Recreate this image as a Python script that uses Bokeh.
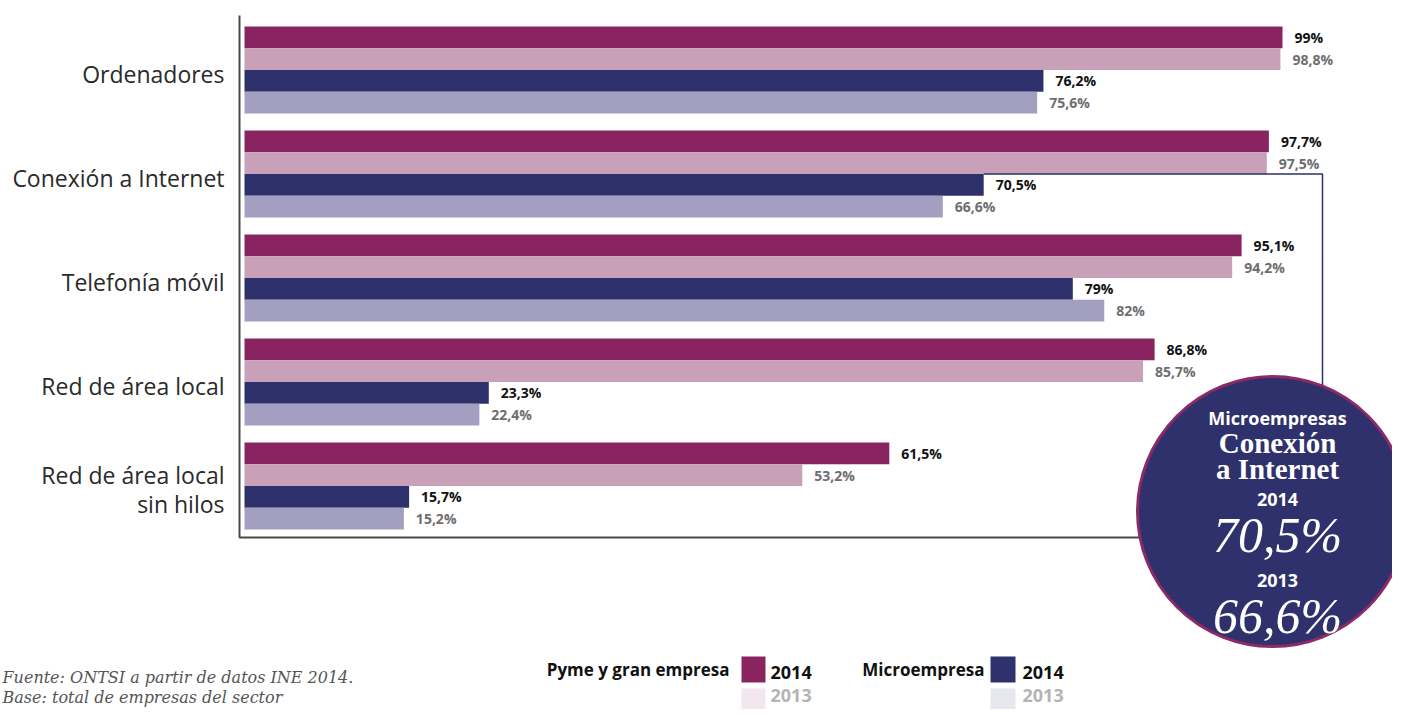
from bokeh.plotting import figure
from bokeh.models import Range1d
from bokeh.embed import file_html
from bokeh.resources import INLINE
from bokeh.core.properties import value

# ---- data ----
categories = ["Ordenadores", "Conexión a Internet", "Telefonía móvil",
              "Red de área local", "Red de área local\nsin hilos"]
pyme_2014 = [99.0, 97.7, 95.1, 86.8, 61.5]
pyme_2013 = [98.8, 97.5, 94.2, 85.7, 53.2]
micro_2014 = [76.2, 70.5, 79.0, 23.3, 15.7]
micro_2013 = [75.6, 66.6, 82.0, 22.4, 15.2]
legend_groups = ["Pyme y gran empresa", "Microempresa"]
legend_years = ["2014", "2013"]
highlight_index = 1  # Conexión a Internet, microempresa

# ---- styling ----
C_P14 = "#8a2461"
C_P13 = "#c8a1b8"
C_M14 = "#2e316b"
C_M13 = "#a39fc1"
W, H = 1392, 709
PX_PER_PCT = 10.485
ZERO_X = 244.0
PITCH = 104.0
G0_Y = 69.5


def X(px):
    return (px - ZERO_X) / PX_PER_PCT


def Y(py):
    return (py - G0_Y) / PITCH


def fmt(v):
    return ("%g" % v).replace(".", ",") + "%"


p = figure(width=W, height=H, output_backend="svg", toolbar_location=None,
           x_range=Range1d(X(0), X(W)), y_range=Range1d(Y(H), Y(0)),
           x_axis_location=None, y_axis_location=None, min_border=0,
           tools="")
p.grid.visible = False
p.outline_line_color = None
p.background_fill_color = "white"
p.border_fill_color = "white"

bh = 21.75 / PITCH
offsets = [-1.5 * bh, -0.5 * bh, 0.5 * bh, 1.5 * bh]
series = [pyme_2014, pyme_2013, micro_2014, micro_2013]
colors = [C_P14, C_P13, C_M14, C_M13]
label_colors = ["#111111", "#6e6e6e", "#111111", "#6e6e6e"]

for s, vals in enumerate(series):
    ys = [i + offsets[s] for i in range(len(categories))]
    p.hbar(y=ys, left=0, right=vals, height=bh, fill_color=colors[s],
           line_color=None)
    p.text(x=vals, y=ys, text=[fmt(v) for v in vals], x_offset=12,
           text_font=value("Open Sans"), text_font_size="14px",
           text_font_style="bold", text_color=label_colors[s],
           text_baseline="middle", text_align="left")

# category labels (multi-line split into separate lines)
lx, ly, lt, lo = [], [], [], []
for i, c in enumerate(categories):
    parts = c.split("\n")
    n = len(parts)
    for k, part in enumerate(parts):
        lx.append(X(224))
        ly.append(i + 3.5 / PITCH)
        lt.append(part)
        lo.append((k - (n - 1) / 2.0) * 29.0)
p.text(x=lx, y=ly, text=lt, y_offset=lo, text_font=value("Open Sans"),
       text_font_size="23px", text_color="#2a2a2a", text_align="right",
       text_baseline="middle")

# axis lines
p.line(x=[X(239), X(239), X(1145)], y=[Y(15), Y(537), Y(537)],
       line_color="#4a4a4a", line_width=2)

# connector from highlighted bar to circle
hy = highlight_index + offsets[2] - bh / 2
p.line(x=[micro_2014[highlight_index], X(1322), X(1322)],
       y=[hy, hy, Y(390)], line_color=C_M14, line_width=1.5)

# circle callout
p.scatter(x=[X(1272)], y=[Y(511)], size=270, marker="circle",
          fill_color=C_M14, line_color="#8b2a66", line_width=3)
cx = X(1277)
p.text(x=[cx], y=[Y(417)], text=["Microempresas"], text_font=value("Open Sans"),
       text_font_size="18px", text_font_style="bold", text_color="white",
       text_align="center", text_baseline="middle")
p.text(x=[cx, cx], y=[Y(442), Y(468)], text=["Conexión", "a Internet"],
       text_font=value("Liberation Serif"), text_font_size="29px",
       text_font_style="bold", text_color="white",
       text_align="center", text_baseline="middle")
p.text(x=[cx, cx], y=[Y(499), Y(580)], text=legend_years,
       text_font=value("Open Sans"), text_font_size="18px",
       text_font_style="bold", text_color="white",
       text_align="center", text_baseline="middle")
big = [fmt(micro_2014[highlight_index]), fmt(micro_2013[highlight_index])]
p.text(x=[cx, cx], y=[Y(534), Y(615)], text=big,
       text_font=value("Liberation Serif"), text_font_size="50px",
       text_font_style="italic", text_color="white",
       text_align="center", text_baseline="middle")

# legend
p.text(x=[X(729), X(984)], y=[Y(669), Y(669)], text=legend_groups,
       text_font=value("Open Sans"), text_font_size="17px",
       text_font_style="bold", text_color="#111111",
       text_align="right", text_baseline="middle")
p.quad(left=[X(741), X(741), X(990), X(990)],
       right=[X(765), X(765), X(1015), X(1015)],
       top=[Y(656), Y(688), Y(656), Y(688)],
       bottom=[Y(682), Y(709), Y(682), Y(709)],
       fill_color=[C_P14, "#f3e6ee", C_M14, "#e7e7ee"], line_color=None)
p.text(x=[X(770), X(1022)], y=[Y(672), Y(672)], text=[legend_years[0]] * 2,
       text_font=value("Open Sans"), text_font_size="18px",
       text_font_style="bold", text_color="#111111",
       text_align="left", text_baseline="middle")
p.text(x=[X(770), X(1022)], y=[Y(695), Y(695)], text=[legend_years[1]] * 2,
       text_font=value("Open Sans"), text_font_size="18px",
       text_font_style="bold", text_color="#b4b4b4",
       text_align="left", text_baseline="middle")

# source note
p.text(x=[X(2), X(2)], y=[Y(677), Y(697)],
       text=["Fuente: ONTSI a partir de datos INE 2014.",
             "Base: total de empresas del sector"],
       text_font=value("DejaVu Serif"), text_font_size="16px",
       text_font_style="italic", text_color="#555555",
       text_align="left", text_baseline="middle")

open("out.html", "w").write(file_html(p, INLINE))
